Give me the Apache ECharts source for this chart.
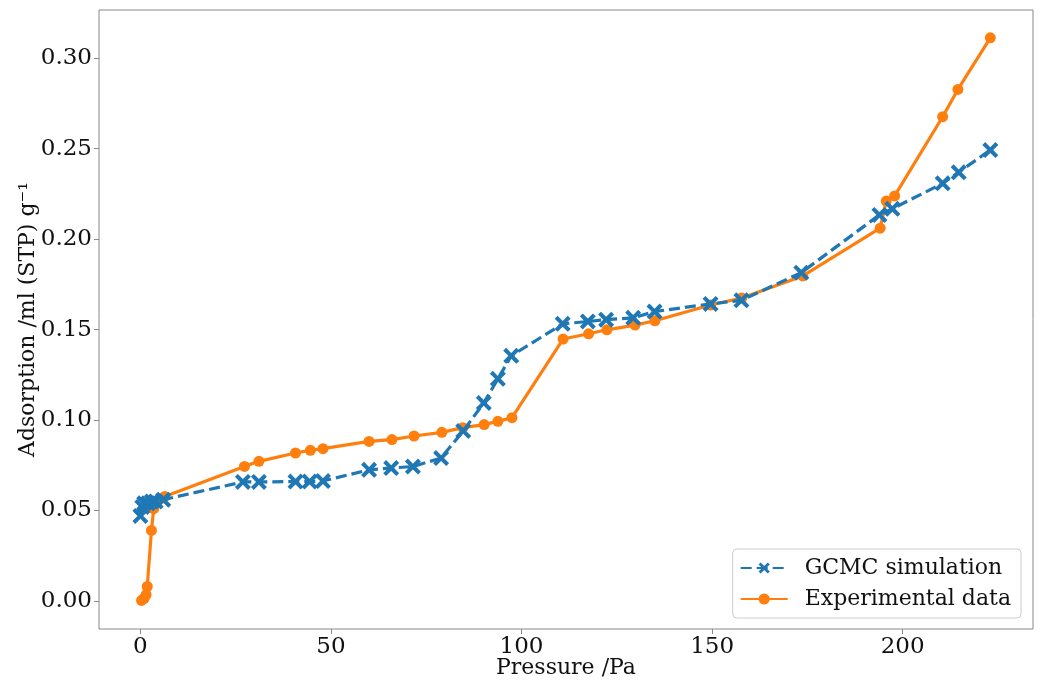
<!DOCTYPE html>
<html>
<head>
<meta charset="utf-8">
<script src="https://cdn.jsdelivr.net/npm/echarts@6/dist/echarts.min.js"></script>
<style>
  html, body { margin: 0; padding: 0; background: #fff; }
  #chart { width: 1042px; height: 682px; }
</style>
</head>
<body>
<div id="chart"></div>
<script>
// GCMC simulation (pressure Pa, adsorption ml(STP)/g)
var gcmcX = [0, 0.5, 1, 2, 3, 4, 6, 26.9, 31.1, 40.7, 44.4, 47.9, 60.0, 65.8, 71.5, 78.9, 84.7, 90.1, 93.8, 97.3,
             110.8, 117.4, 122.2, 129.3, 134.9, 149.6, 157.7, 173.4, 193.9, 197.3, 210.5, 214.7, 223.0];
var gcmcY = [0.047, 0.052, 0.054, 0.054, 0.055, 0.055, 0.056, 0.0658, 0.0658, 0.066, 0.066, 0.0663, 0.0725, 0.0735, 0.0743, 0.079, 0.094, 0.1095, 0.1228, 0.1355,
             0.1532, 0.1545, 0.1555, 0.1565, 0.160, 0.1642, 0.1662, 0.1815, 0.2134, 0.2168, 0.2309, 0.2370, 0.2493];

// experimental data
var expX = [0.3, 1.0, 1.5, 1.8, 2.9, 3.5, 4.5, 5.3, 6.4, 27.3, 31.1, 40.7, 44.6, 47.9, 60.0, 66.0, 71.8, 79.1, 84.6, 90.2, 93.8, 97.5,
            110.9, 117.6, 122.4, 129.8, 135.0, 149.6, 157.8, 173.8, 194.1, 195.7, 197.9, 210.5, 214.5, 223.0];
var expY = [0.0003, 0.0015, 0.0035, 0.008, 0.039, 0.051, 0.0555, 0.0565, 0.0578, 0.0744, 0.0772, 0.0818, 0.0833, 0.0842, 0.0882, 0.0892, 0.0912, 0.0932, 0.0958, 0.0975, 0.0993, 0.1013,
            0.1448, 0.1477, 0.1499, 0.1525, 0.1549, 0.1636, 0.1675, 0.1797, 0.2061, 0.2211, 0.2239, 0.2677, 0.2828, 0.3113];

var xTicks = [0, 50, 100, 150, 200];
var yTicks = [0, 0.05, 0.10, 0.15, 0.20, 0.25, 0.30];

function pairs(xs, ys) {
    var out = [];
    for (var i = 0; i < xs.length; i++) {
        out.push([xs[i], ys[i]]);
    }
    return out;
}

var FONT = 'DejaVu Serif';
var crossPath = 'path://M0,1.8L1.8,0L5,3.2L8.2,0L10,1.8L6.8,5L10,8.2L8.2,10L5,6.8L1.8,10L0,8.2L3.2,5Z';

var myChart = echarts.init(document.getElementById('chart'));

var option = {
    animation: false,
    backgroundColor: '#fff',
    grid: {
        left: 99, right: 9, top: 10, bottom: 53,
        outerBoundsMode: 'none',
        containLabel: false,
        show: true, borderColor: '#888', borderWidth: 1
    },
    legend: {
        data: ['GCMC simulation', 'Experimental data'],
        orient: 'vertical',
        right: 21, bottom: 64,
        itemWidth: 47, itemHeight: 14,
        itemGap: 9,
        padding: [8, 10, 8, 7],
        borderColor: '#ccc', borderWidth: 1, borderRadius: 4,
        backgroundColor: 'rgba(255,255,255,0.8)',
        textStyle: { fontFamily: FONT, fontSize: 22, color: '#111', padding: [0, 0, 0, 12] }
    },
    xAxis: {
        type: 'value',
        min: -10.86, max: 234.2,
        name: 'Pressure /Pa',
        nameLocation: 'middle',
        nameGap: 28,
        nameMoveOverlap: false,
        nameTextStyle: { fontFamily: FONT, fontSize: 22, color: '#111' },
        axisLine: { show: false, onZero: false },
        splitLine: { show: false },
        axisTick: { show: true, length: 5, customValues: xTicks, lineStyle: { color: '#888' } },
        axisLabel: { customValues: xTicks, margin: 7, fontFamily: FONT, fontSize: 23, color: '#111' }
    },
    yAxis: {
        type: 'value',
        min: -0.0155, max: 0.3267,
        name: 'Adsorption /ml (STP) g\u207B\u00B9',
        nameLocation: 'middle',
        nameGap: 60,
        nameMoveOverlap: false,
        nameTextStyle: { fontFamily: FONT, fontSize: 22, color: '#111' },
        axisLine: { show: false, onZero: false },
        splitLine: { show: false },
        axisTick: { show: true, length: 5, customValues: yTicks, lineStyle: { color: '#888' } },
        axisLabel: {
            customValues: yTicks, margin: 7, fontFamily: FONT, fontSize: 23, color: '#111',
            formatter: function (v) { return v.toFixed(2); }
        }
    },
    series: [{
        name: 'GCMC simulation',
        type: 'line',
        z: 3,
        data: pairs(gcmcX, gcmcY),
        symbol: crossPath,
        symbolSize: 16,
        showAllSymbol: true,
        itemStyle: { color: '#1f77b4' },
        lineStyle: { color: '#1f77b4', width: 3.2, type: [11, 5] }
    }, {
        name: 'Experimental data',
        type: 'line',
        z: 2,
        data: pairs(expX, expY),
        symbol: 'circle',
        symbolSize: 11,
        showAllSymbol: true,
        itemStyle: { color: '#ff7f0e' },
        lineStyle: { color: '#ff7f0e', width: 3.2 }
    }]
};

myChart.setOption(option);
</script>
</body>
</html>
